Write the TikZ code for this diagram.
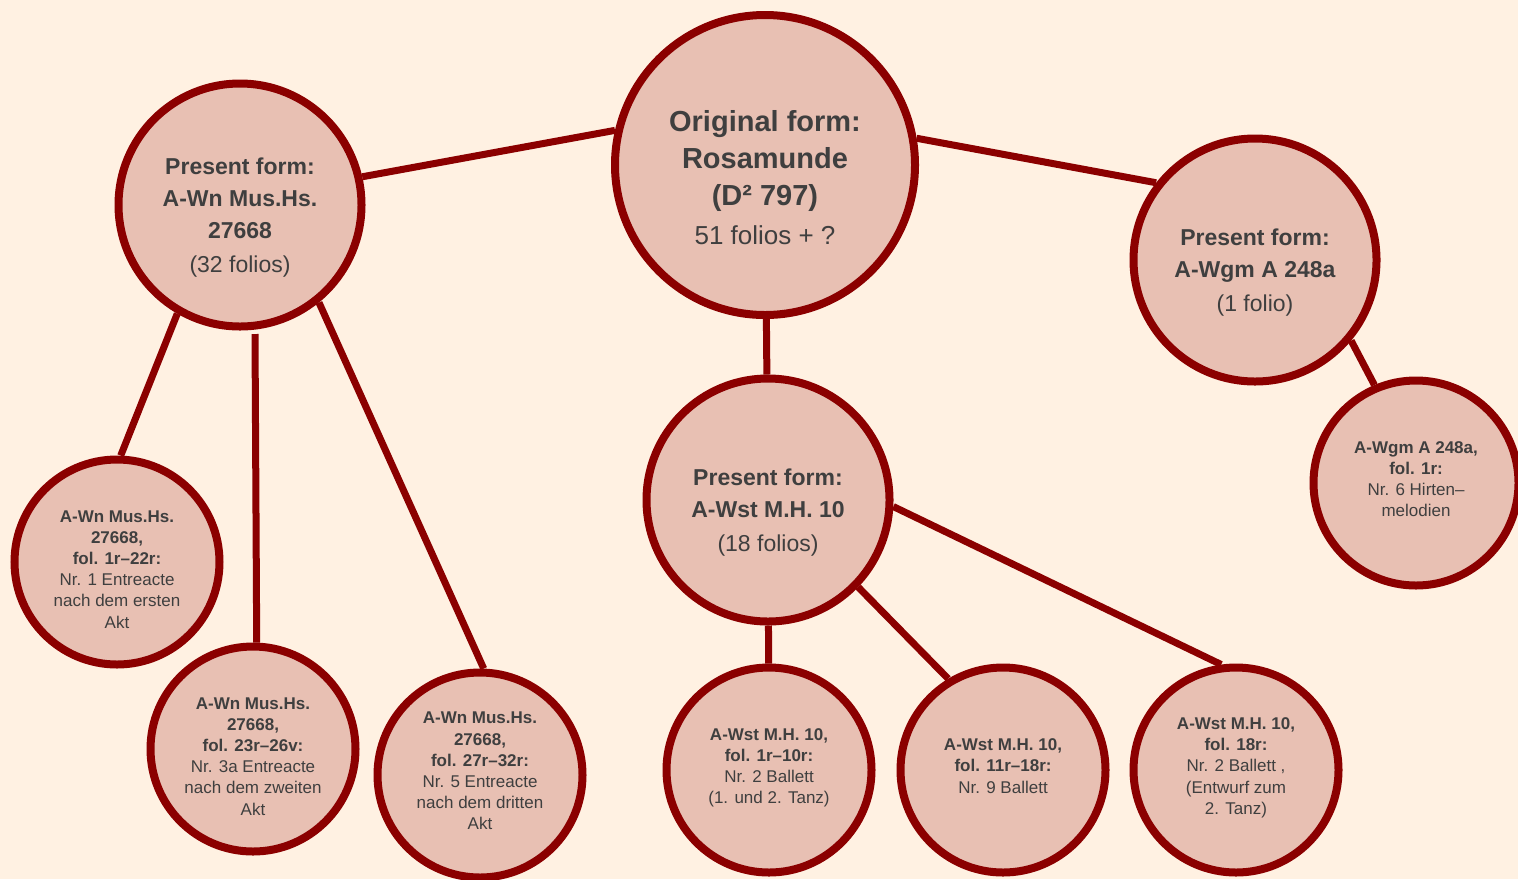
\documentclass[tikz,border=0pt]{standalone}
\usepackage{fontspec}
\setmainfont{Liberation Sans}
\usepackage{xcolor}
\usepackage{tikz}
\usetikzlibrary{shapes,backgrounds}

\definecolor{bgcream}{HTML}{FFF1E2}
\definecolor{diskfill}{HTML}{E8C0B3}
\definecolor{rimred}{HTML}{8B0000}
\definecolor{inkgray}{HTML}{3F3F3F}

% invisible struts that push a node's text down or up
\newcommand{\padtop}[1]{\rule{0pt}{#1}}
\newcommand{\padbot}[1]{\rule[-#1]{0pt}{#1}}

\begin{document}
\begin{tikzpicture}[x=0.5pt,y=-0.5pt]
				\tikzstyle{common} = [circle, draw=rimred, fill=diskfill, line width=4pt, text=inkgray, align=center, inner sep=0]
				\tikzstyle{origin} = [common, minimum size=150pt, font=\fontsize{14.5}{18.5}\selectfont]
				\tikzstyle{present} = [common, minimum size=121.5pt, font=\fontsize{11.5}{16}\selectfont]
				\tikzstyle{part} = [common, minimum size=102.5pt, font=\fontsize{8.5}{10.6}\selectfont]
				\tikzstyle{line} = [draw=rimred, line width=3.5pt]
				\useasboundingbox (0,0) rectangle (1518,879);

				\node[origin] (orig) at (765,165) {\padtop{22.7pt}\textbf{Original form:}\\\textbf{Rosamunde}\\\textbf{(D² 797)}\\[1pt]{\fontsize{13}{18.5}\selectfont 51 folios + ?}};
				\node[present] (wn) at (240,205) {\padtop{20.4pt}\textbf{Present form:}\\\textbf{A-Wn Mus.Hs.}\\\textbf{27668}\\[1pt](32 folios)};
				\node[present] (wgm) at (1255,260) {\padtop{20.4pt}\textbf{Present form:}\\\textbf{A-Wgm A 248a}\\[1pt](1 folio)};
				\node[present] (wst) at (768,500) {\padtop{20.4pt}\textbf{Present form:}\\\textbf{A-Wst M.H. 10}\\[1pt](18 folios)};

				\node[part] (wn1) at (117,562) {\padtop{13.1pt}\textbf{A-Wn Mus.Hs.}\\\textbf{27668,}\\\textbf{fol. 1r–22r:}\\Nr. 1 Entreacte\\nach dem ersten\\Akt};
				\node[part] (wn2) at (253,749) {\padtop{13.1pt}\textbf{A-Wn Mus.Hs.}\\\textbf{27668,}\\\textbf{fol. 23r–26v:}\\Nr. 3a Entreacte\\nach dem zweiten\\Akt};
				\node[part] (wn3) at (480,775) {\textbf{A-Wn Mus.Hs.}\\\textbf{27668,}\\\textbf{fol. 27r–32r:}\\Nr. 5 Entreacte\\nach dem dritten\\Akt\padbot{4pt}};
				\node[part] (wst1) at (769,770) {\textbf{A-Wst M.H. 10,}\\\textbf{fol. 1r–10r:}\\Nr. 2 Ballett\\(1. und 2. Tanz)\padbot{4pt}};
				\node[part] (wst2) at (1003,770) {\textbf{A-Wst M.H. 10,}\\\textbf{fol. 11r–18r:}\\Nr. 9 Ballett\padbot{4pt}};
				\node[part] (wst3) at (1236,770) {\textbf{A-Wst M.H. 10,}\\\textbf{fol. 18r:}\\Nr. 2 Ballett ,\\(Entwurf zum\\2. Tanz)\padbot{4pt}};
				\node[part] (wgm1) at (1416,483) {\textbf{A-Wgm A 248a,}\\\textbf{fol. 1r:}\\Nr. 6 Hirten–\\melodien\padbot{4pt}};

				\coordinate (wn2top) at (255,334);

				\begin{pgfonlayer}{background}
				\fill[bgcream] (0,0) rectangle (1518,879);
				\draw[line] (wn.13) -- (orig.167);
				\draw[line] (orig.10) -- (wgm.142);
				\draw[line] (orig) -- (wst);
				\draw[line] (wn.240) -- (wn1.88);
				\draw[line] (wn2top) -- (wn2.88);
				\draw[line] (wn.-51) -- (wn3.88);
				\draw[line] (wst) -- (wst1);
				\draw[line] (wst.-44) -- (wst2.121);
				\draw[line] (wst.-3) -- (wst3.98);
				\draw[line] (wgm.-40) -- (wgm1.113);
				\end{pgfonlayer}
			\end{tikzpicture}
\end{document}
